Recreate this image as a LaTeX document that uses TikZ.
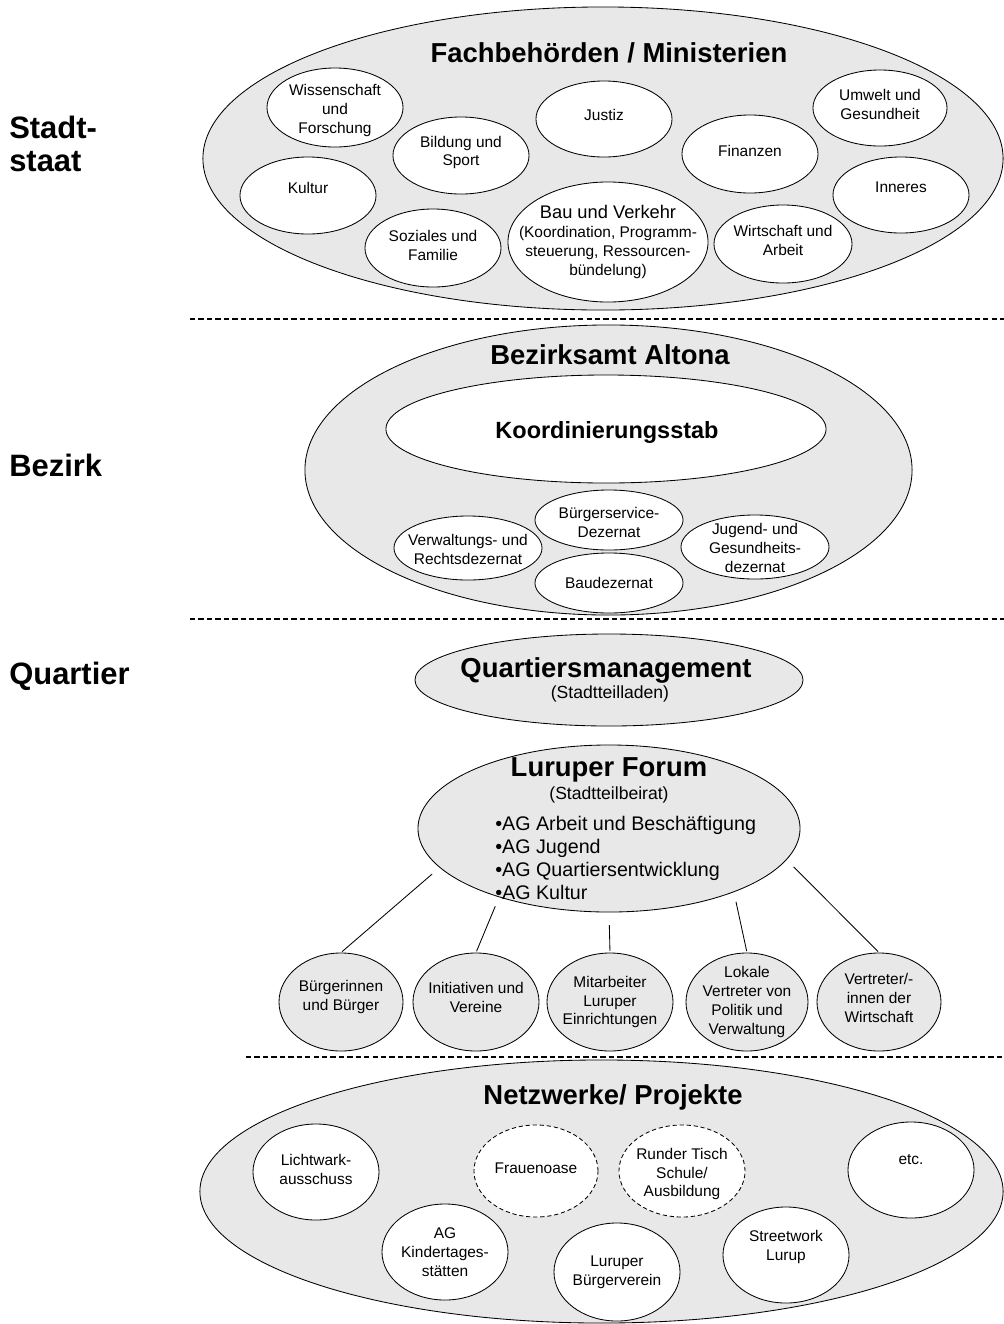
\documentclass[tikz,border=0pt]{standalone}
\usepackage{fontspec}
\setmainfont{Liberation Sans}
\usetikzlibrary{shapes.geometric}
\definecolor{ovalgray}{gray}{0.91}
\tikzset{
	oval/.style={ellipse, draw, line width=0.6pt, fill=white, inner sep=0pt},
	grayoval/.style={oval, fill=ovalgray},
	dashoval/.style={oval, dash pattern=on 3pt off 2pt},
	txt/.style={align=center, inner sep=0pt, font=\fontsize{11}{13.5}\selectfont},
	heading/.style={inner sep=0pt, text height=14pt, text depth=0pt, font=\fontsize{19.5}{22}\selectfont\bfseries},
	subhead/.style={inner sep=0pt, font=\fontsize{12.5}{15}\selectfont},
	tier/.style={anchor=west, align=left, inner sep=0pt, font=\fontsize{22}{24}\selectfont\bfseries},
	divider/.style={line width=0.9pt, dash pattern=on 3.8pt off 2.2pt},
	link/.style={line width=0.6pt, shorten <=7pt, shorten >=1pt}
}
\def\bubble[#1](#2)(#3,#4)(#5:#6:#7)#8{%
	\node[oval,#1,minimum width=#5*0.05cm,minimum height=#6*0.05cm] (#2) at (#3,#4) {};
	\node[txt] at (#3,{#4+(#7)}) {#8};}

\begin{document}
\begin{tikzpicture}[x=0.025cm,y=-0.025cm]
			%%%%% START %%%%%
			\useasboundingbox (0,0) rectangle (1004,1324);
			
			\node[tier] (lstadt) at (9,144) {Stadt-\\staat};
			\node[tier] (lbezirk) at (9,465) {Bezirk};
			\node[tier] (lquartier) at (9,676) {Quartier};
			
			%% Stadtstaat
			\node[grayoval, minimum width=20cm, minimum height=7.575cm] (fach) at (603,158.5) {};
			\node[heading] (tfach) at (609,53) {Fachbehörden / Ministerien};
			\bubble[](wiss)(335,107.5)(68:39.5:3){Wissenschaft\\und\\Forschung}
			\bubble[](justiz)(604,119)(68:38:-4){Justiz}
			\bubble[](umwelt)(880,108)(67:38:-4){Umwelt und\\Gesundheit}
			\bubble[](bildung)(461,155.5)(68:38.5:-3){Bildung und\\Sport}
			\bubble[](finanzen)(750,154)(68:39:-3){Finanzen}
			\bubble[](kultur)(308,195.5)(68:38.5:-8){Kultur}
			\bubble[](inneres)(901,195)(68:38:-8){Inneres}
			\bubble[](soziales)(433,248)(68:39:-3){Soziales und\\Familie}
			\bubble[](bau)(608,242)(100:60:0){{\fontsize{13}{15}\selectfont Bau und Verkehr}\\(Koordination, Programm-\\steuerung, Ressourcen-\\bündelung)}
			\bubble[](wirtschaft)(783,244)(69:39:-4){Wirtschaft und\\Arbeit}
			
			\draw[divider] (190,319) -- (1004,319);
			
			%% Bezirk
			\node[grayoval, minimum width=15.175cm, minimum height=7.25cm] (bezirk) at (608.5,470) {};
			\node[heading] (tbezirk) at (610,355) {Bezirksamt Altona};
			\node[oval, minimum width=11cm, minimum height=2.7cm] (koord) at (606,429) {};
			\node[heading, font=\fontsize{16.7}{20}\selectfont\bfseries, text height=12pt] (tkoord) at (607,430) {Koordinierungsstab};
			\bubble[](service)(609,520)(74:30:2){Bürgerservice-\\Dezernat}
			\bubble[](verwaltung)(468,548)(74:32:1){Verwaltungs- und\\Rechtsdezernat}
			\bubble[](jugend)(755,547)(74:32:1){Jugend- und\\Gesundheits-\\dezernat}
			\bubble[](baudez)(609,583)(74:30:0){Baudezernat}
			
			\draw[divider] (190,619) -- (1004,619);
			
			%% Quartier
			\node[grayoval, minimum width=9.7cm, minimum height=2.3cm] (qm) at (609,680) {};
			\node[heading] (tqm) at (606,668) {Quartiersmanagement};
			\node[subhead] (sqm) at (610,694) {(Stadtteilladen)};
			
			\node[grayoval, minimum width=9.55cm, minimum height=4.175cm] (forum) at (609,828.5) {};
			\node[heading] (tforum) at (609,767) {Luruper Forum};
			\node[subhead] (sforum) at (609,795) {(Stadtteilbeirat)};
			\node[txt, anchor=west, align=left, font=\fontsize{14}{16.4}\selectfont] (ags) at (495,858) {•AG Arbeit und Beschäftigung\\•AG Jugend\\•AG Quartiersentwicklung\\•AG Kultur};
			
			\bubble[grayoval](buerger)(341,1002)(62:49:-5){Bürgerinnen\\und Bürger}
			\bubble[grayoval](vereine)(476,1002)(63:49:-5){Initiativen und\\Vereine}
			\bubble[grayoval](mitarb)(610,1002)(63:49:0){Mitarbeiter\\Luruper\\Einrichtungen}
			\bubble[grayoval](lokal)(747,1002)(61:49:0){Lokale\\Vertreter von\\Politik und\\Verwaltung}
			\bubble[grayoval](wirt)(879,1002)(62:49:-4){Vertreter/-\\innen der\\Wirtschaft}
			
			\draw[link] (forum.193) -- (buerger.north);
			\draw[link] (forum.212) -- (vereine.north);
			\draw[link, shorten <=9pt] (forum.south) -- (mitarb.north);
			\draw[link] (forum.333) -- (lokal.north);
			\draw[link] (forum.350) -- (wirt.north);
			
			\draw[divider] (246,1057) -- (1004,1057);
			
			%% Netzwerke
			\node[grayoval, minimum width=20.075cm, minimum height=6.575cm] (netz) at (601.5,1191.5) {};
			\node[heading] (tnetz) at (613,1095) {Netzwerke/ Projekte};
			\bubble[](licht)(316,1172)(63:48:-3){Lichtwark-\\ausschuss}
			\bubble[dashoval](frauen)(536,1171)(62:46:-3){Frauenoase}
			\bubble[dashoval](runder)(682,1171)(63:46:3){Runder Tisch\\Schule/\\Ausbildung}
			\bubble[](etc)(911,1170)(63:48:-10){etc.}
			\bubble[](kita)(445,1252)(63:48:0){AG\\Kindertages-\\stätten}
			\bubble[](verein)(617,1272)(63:49:0){Luruper\\Bürgerverein}
			\bubble[](street)(786,1255)(63:48:-8){Streetwork\\Lurup}
			
			%%%%% END %%%%%
\end{tikzpicture}
\end{document}
